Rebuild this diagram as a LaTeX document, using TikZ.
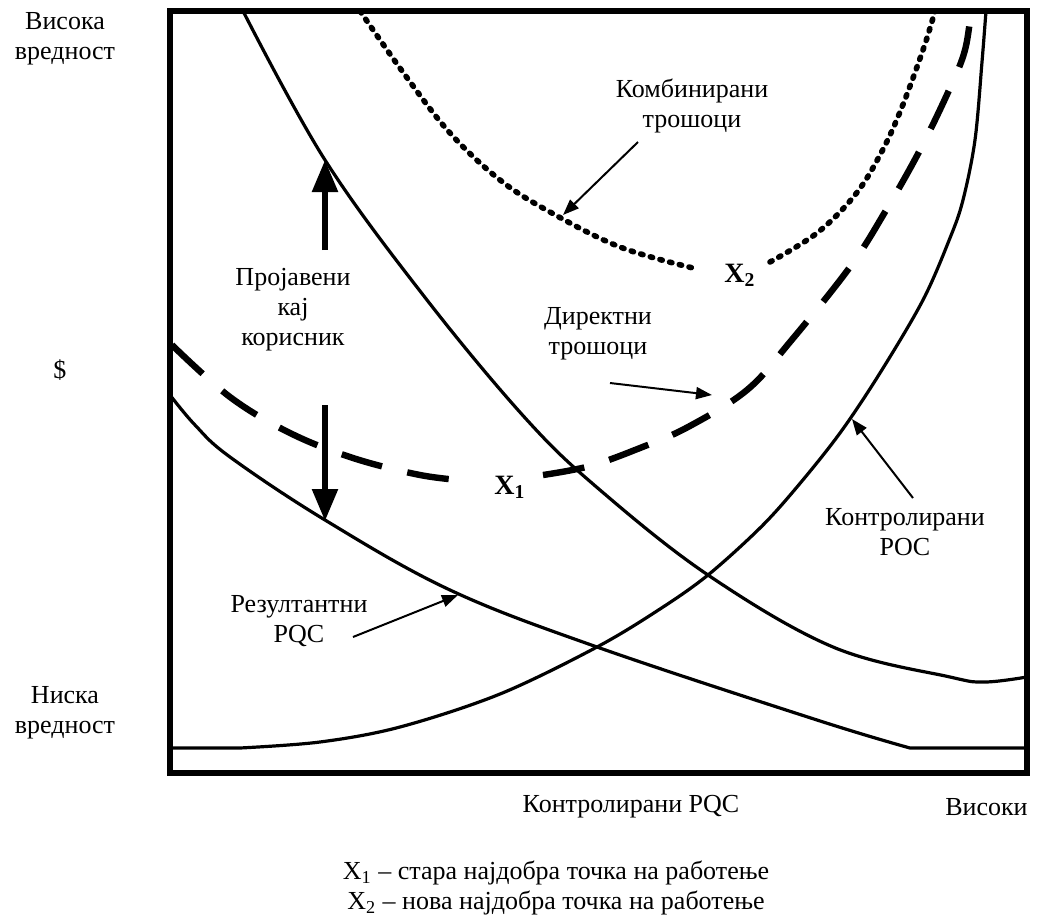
\documentclass[tikz,border=0pt]{standalone}
\usepackage{fontspec}
\setmainfont{Liberation Serif}
\usetikzlibrary{arrows.meta}
\begin{document}
\begin{tikzpicture}[x=0.5pt,y=-0.5pt,
  lbl/.style={font=\fontsize{13}{15}\selectfont, align=center, inner sep=0pt},
  optlbl/.style={font=\fontsize{14}{14}\selectfont\bfseries, inner sep=0pt},
  curve/.style={line width=1.6pt, line join=round},
  dashcurve/.style={line width=3.2pt, dash pattern=on 21pt off 13pt},
  dotcurve/.style={line width=2.8pt, line cap=round, dash pattern=on 1.2pt off 3.8pt},
  pointer/.style={line width=1pt, -{Triangle[length=8pt,width=6pt]}},
  bigarrow/.style={line width=2.8pt, -{Triangle[length=16pt,width=12.5pt]}},
  frame/.style={line width=3.3pt}]
\useasboundingbox (0,0) rectangle (1057,917);

% steep falling curve
\draw[curve] plot[smooth, tension=0.6] coordinates {(243,11) (325,160) (427,300) (527,420) (600,490) (708,575) (833,647) (950,677) (985,682) (1027,677)};
% resultant PQC
\draw[curve] plot[smooth, tension=0.6] coordinates {(170,395) (195,425) (230,457) (325,520) (450,590) (597,647) (817,720) (910,748)} -- (1027,748);
% controlled PQC (rising)
\draw[curve] (170,748) -- (240,748) plot[smooth, tension=0.55] coordinates {(240,748) (320,742) (400,727) (500,694) (597,647) (660,609) (708,575) (760,528) (797,487) (840,433) (880,373) (923,300) (950,238) (963,200) (975,140) (982,62) (986,11)};
% direct costs
\draw[dashcurve] plot[smooth, tension=0.6] coordinates {(172,345) (230,397) (290,433) (353,458) (420,475) (470,481)};
\draw[dashcurve] plot[smooth, tension=0.6] coordinates {(543,475) (590,466) (640,448) (688,427) (747,390) (790,342) (850,267) (885,212) (920,150) (950,88) (965,50) (971,11)};
% combined costs
\draw[dotcurve] plot[smooth, tension=0.6] coordinates {(360,11) (405,75) (450,133) (500,180) (550,212) (620,247) (693,268)};
\draw[dotcurve] plot[smooth, tension=0.6] coordinates {(770,262) (817,233) (855,195) (880,155) (900,112) (923,50) (935,11)};

% frame
\draw[frame] (170,11) rectangle (1027,773);

% axis texts
\node[lbl] (hi) at (65,39) {Висока\\вредност};
\node[lbl] (usd) at (60,370) {\$};
\node[lbl] (lo) at (65,713) {Ниска\\вредност};
\node[lbl] (xaxis) at (631,807) {Контролирани PQC};
\node[lbl, anchor=east] (xhi) at (1028,807) {Високи};
\node[lbl] (legend) at (556,888) {X\textsubscript{1} – стара најдобра точка на работење\\X\textsubscript{2} – нова најдобра точка на работење};

% curve labels
\node[lbl] (comb) at (692,106) {Комбинирани\\трошоци};
\node[lbl] (user) at (293,310) {Пројавени\\кај\\корисник};
\node[lbl] (direct) at (598,334) {Директни\\трошоци};
\node[lbl] (ctrl) at (905,532) {Контролирани\\POC};
\node[lbl] (res) at (299,621) {Резултантни\\PQC};
\node[optlbl] (x1) at (510,487) {X\textsubscript{1}};
\node[optlbl] (x2) at (740,275) {X\textsubscript{2}};

% user-visible gap arrows
\coordinate (upTail) at (325,250);
\coordinate (upTip) at (325,160);
\coordinate (dnTail) at (325,405);
\coordinate (dnTip) at (325,521);
\draw[bigarrow] (upTail) -- (upTip);
\draw[bigarrow] (dnTail) -- (dnTip);

% label pointers
\coordinate (combFrom) at (638,142);
\coordinate (combTo) at (563,215);
\coordinate (dirFrom) at (610,383);
\coordinate (dirTo) at (712,395);
\coordinate (ctrlFrom) at (913,498);
\coordinate (ctrlTo) at (852,419);
\coordinate (resFrom) at (353,637);
\coordinate (resTo) at (458,595);
\draw[pointer] (combFrom) -- (combTo);
\draw[pointer] (dirFrom) -- (dirTo);
\draw[pointer] (ctrlFrom) -- (ctrlTo);
\draw[pointer] (resFrom) -- (resTo);
\end{tikzpicture}
\end{document}
